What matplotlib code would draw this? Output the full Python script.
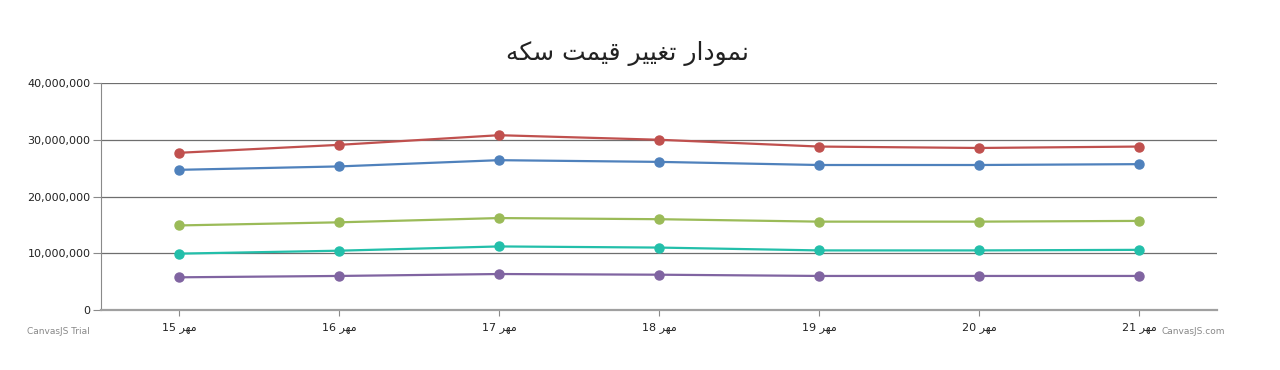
import numpy as np
import matplotlib
matplotlib.use('Agg')
from matplotlib import pyplot as plt
from matplotlib.ticker import FuncFormatter

title = 'نمودار تغییر قیمت سکه'
month = 'مهر'
days = [15, 16, 17, 18, 19, 20, 21]

# values in rial
blue = [24700000, 25300000, 26400000, 26100000, 25550000, 25550000, 25700000]
red = [27700000, 29100000, 30800000, 30000000, 28800000, 28550000, 28800000]
green = [14900000, 15450000, 16200000, 16000000, 15570000, 15570000, 15700000]
teal = [9930000, 10450000, 11200000, 11000000, 10500000, 10500000, 10600000]
purple = [5760000, 6000000, 6340000, 6220000, 6000000, 6000000, 6000000]

series = [blue, red, green, teal, purple]
colors = ['#4F81BC', '#C0504E', '#9BBB58', '#23BFAA', '#8064A1']

# very small persian shaper (matplotlib has no complex text layout)
forms = {
    'ا': ('\uFE8D', '\uFE8E', None, None),
    'د': ('\uFEA9', '\uFEAA', None, None),
    'ر': ('\uFEAD', '\uFEAE', None, None),
    'و': ('\uFEED', '\uFEEE', None, None),
    'ن': ('\uFEE5', '\uFEE6', '\uFEE7', '\uFEE8'),
    'م': ('\uFEE1', '\uFEE2', '\uFEE3', '\uFEE4'),
    'ت': ('\uFE95', '\uFE96', '\uFE97', '\uFE98'),
    'غ': ('\uFECD', '\uFECE', '\uFECF', '\uFED0'),
    'ق': ('\uFED5', '\uFED6', '\uFED7', '\uFED8'),
    'س': ('\uFEB1', '\uFEB2', '\uFEB3', '\uFEB4'),
    'ه': ('\uFEE9', '\uFEEA', '\uFEEB', '\uFEEC'),
    'ی': ('\uFBFC', '\uFBFD', '\uFBFE', '\uFBFF'),
    'ک': ('\uFB8E', '\uFB8F', '\uFB90', '\uFB91'),
}


def shape(s):
    out = []
    for i, ch in enumerate(s):
        if ch not in forms:
            out.append(ch)
            continue
        prev = s[i - 1] if i > 0 else ''
        nxt = s[i + 1] if i + 1 < len(s) else ''
        join_prev = prev in forms and forms[prev][2] is not None
        join_next = nxt in forms and forms[ch][2] is not None
        iso, fin, ini, med = forms[ch]
        if join_prev and join_next:
            out.append(med)
        elif join_prev:
            out.append(fin)
        elif join_next:
            out.append(ini)
        else:
            out.append(iso)
    return ''.join(out)[::-1]


labels = ['%d %s' % (d, shape(month)) for d in days]
x = np.arange(len(days))

fig = plt.figure(figsize=(12.8, 3.7), dpi=100)
ax = fig.add_axes([101 / 1280, 1 - 310 / 370, (1217 - 101) / 1280, (310 - 83) / 370])

for vals, c in zip(series, colors):
    ax.plot(x, vals, color=c, lw=1.6, marker='o', ms=6.5, zorder=3)

ax.set_xlim(-0.4875, 6.4875)
ax.set_ylim(0, 40000000)
ax.set_yticks([0, 10000000, 20000000, 30000000, 40000000])
ax.yaxis.set_major_formatter(FuncFormatter(lambda v, p: '{:,.0f}'.format(v)))
ax.set_xticks(x)
ax.set_xticklabels(labels, family='DejaVu Sans')
ax.grid(axis='y', color='#6e6e6e', lw=0.9)
ax.set_axisbelow(True)

for s in ['top', 'right']:
    ax.spines[s].set_visible(False)
ax.spines['left'].set_color('#8a8a8a')
ax.spines['bottom'].set_color('#a0a0a0')
ax.spines['bottom'].set_linewidth(1.6)
ax.tick_params(axis='y', length=6, color='#8a8a8a', labelsize=8, pad=1.5, labelcolor='#222222')
ax.tick_params(axis='x', length=4, color='#8a8a8a', labelsize=8, pad=5, labelcolor='#222222')

fig.text(627 / 1280, 1 - 53 / 370, shape(title), ha='center', va='center', fontsize=18,
         family='DejaVu Sans', color='#222222')
fig.text(27 / 1280, 1 - 332 / 370, 'CanvasJS Trial', fontsize=6.5, color='#888888', va='center')
fig.text(1225 / 1280, 1 - 332 / 370, 'CanvasJS.com', fontsize=6.5, color='#888888',
         va='center', ha='right')

fig.savefig('out.png', dpi=100)
